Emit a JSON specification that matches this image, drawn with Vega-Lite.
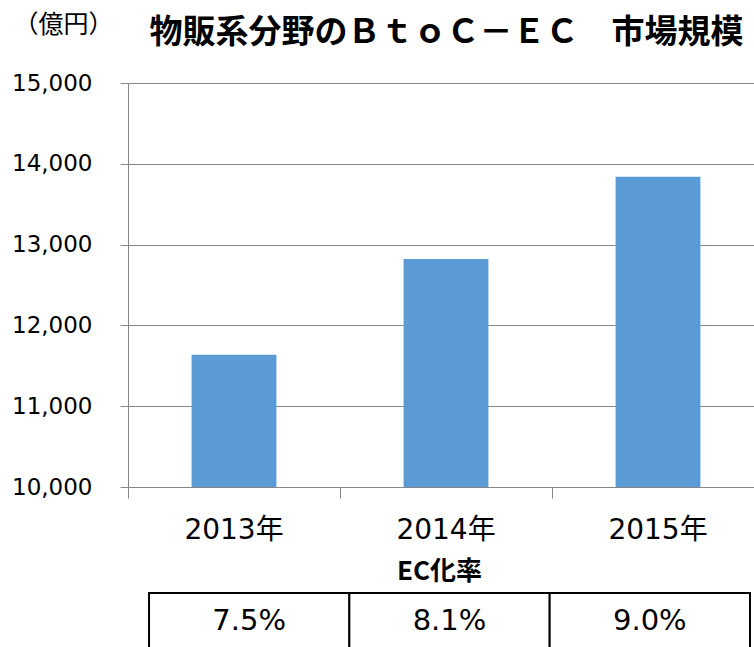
{
  "$schema": "https://vega.github.io/schema/vega-lite/v6.json",
  "padding": {"left": 11, "top": 12, "right": 0, "bottom": 0},
  "spacing": 14,
  "config": {"view": {"stroke": null}, "background": "white"},
  "datasets": {
    "market": [
      {"year": "2013年", "value": 11637, "rate": "7.5%"},
      {"year": "2014年", "value": 12822, "rate": "8.1%"},
      {"year": "2015年", "value": 13840, "rate": "9.0%"}
    ]
  },
  "vconcat": [
    {
      "width": 636,
      "height": 404,
      "data": {"name": "market"},
      "mark": {"type": "bar", "color": "#5B9BD5", "clip": true},
      "encoding": {
        "x": {
          "field": "year",
          "type": "nominal",
          "sort": null,
          "scale": {"paddingInner": 0.6, "paddingOuter": 0.3},
          "axis": {
            "title": "物販系分野のＢｔｏＣ－ＥＣ　市場規模",
            "titleFont": "Noto Sans CJK JP",
            "titleFontSize": 33,
            "titleFontWeight": "bold",
            "titleColor": "#000000",
            "titleAngle": 0,
            "titleAlign": "left",
            "titleBaseline": "middle",
            "titleX": 21,
            "titleY": -455,
            "labelAngle": 0,
            "labelFont": "DejaVu Sans, Noto Sans CJK JP",
            "labelFontSize": 28,
            "labelColor": "#000000",
            "labelPadding": 18,
            "tickSize": 11,
            "tickColor": "#868686",
            "domainColor": "#868686",
            "bandPosition": -0.75
          }
        },
        "y": {
          "field": "value",
          "type": "quantitative",
          "scale": {"domain": [10000, 15000], "nice": false, "zero": false},
          "axis": {
            "values": [10000, 11000, 12000, 13000, 14000, 15000],
            "format": ",d",
            "title": "（億円）",
            "titleAngle": 0,
            "titleX": -115,
            "titleY": -59,
            "titleAlign": "left",
            "titleBaseline": "middle",
            "titleFont": "Noto Sans CJK JP",
            "titleFontSize": 25,
            "titleFontWeight": "normal",
            "titleColor": "#000000",
            "labelFont": "DejaVu Sans",
            "labelFontSize": 23,
            "labelColor": "#000000",
            "labelPadding": 28,
            "tickSize": 8,
            "tickColor": "#868686",
            "domainColor": "#868686",
            "gridColor": "#868686",
            "grid": true
          }
        }
      }
    },
    {
      "width": 622,
      "height": 60,
      "data": {"name": "market"},
      "encoding": {
        "x": {
          "field": "year",
          "type": "nominal",
          "sort": null,
          "scale": {"paddingInner": 0, "paddingOuter": 0.0525, "align": 1},
          "axis": {
            "orient": "top",
            "title": "EC化率",
            "titleFont": "Noto Sans CJK JP",
            "titleFontSize": 26,
            "titleFontWeight": "bold",
            "titleColor": "#000000",
            "titleBaseline": "middle",
            "titleY": -22,
            "labels": false,
            "ticks": false,
            "domain": false
          }
        }
      },
      "layer": [
        {"mark": {"type": "rect", "fill": "white", "stroke": "#000000", "strokeWidth": 2}},
        {
          "mark": {"type": "text", "font": "DejaVu Sans", "fontSize": 29, "color": "#000000", "baseline": "middle", "dy": -2},
          "encoding": {"text": {"field": "rate", "type": "nominal"}}
        }
      ]
    }
  ]
}
